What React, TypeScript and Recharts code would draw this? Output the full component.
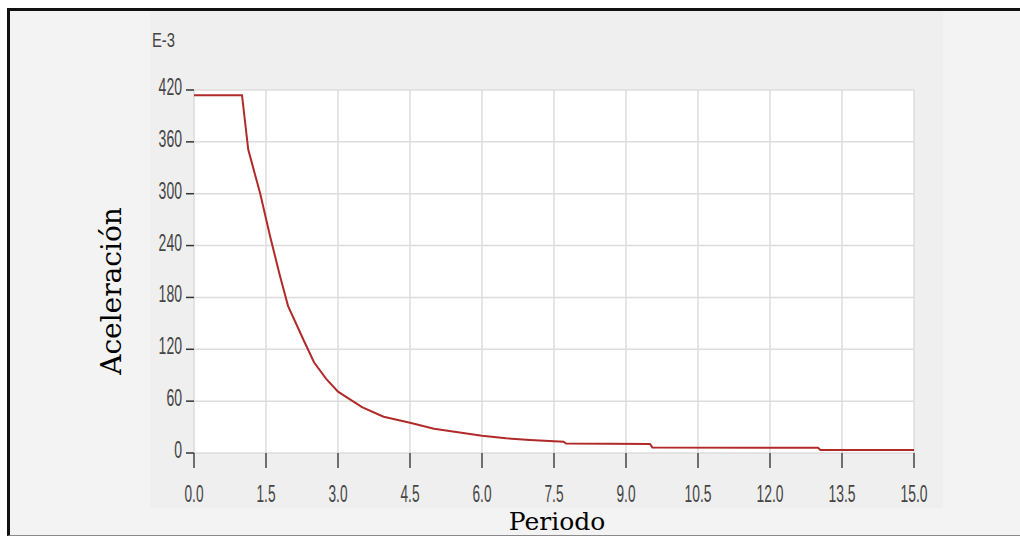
import { LineChart, Line, XAxis, YAxis, CartesianGrid } from 'recharts';

// (values in E-3 units)
const periodo = [0, 1.0, 1.13, 1.38, 1.58, 1.79, 1.96, 2.28, 2.5, 2.75, 3.0, 3.25, 3.5, 3.95, 4.5, 5.0, 5.5, 6.0, 6.5, 7.0, 7.7, 7.75, 9.5, 9.55, 13.0, 13.05, 15.0];
const aceleracion = [414, 414, 351, 300, 252, 205, 170, 131, 105, 86, 71, 62, 53, 42, 35, 28, 24, 20, 17, 15, 13, 11, 10.5, 6.5, 6, 3.5, 3.5];

const xTicks = [0, 1.5, 3, 4.5, 6, 7.5, 9, 10.5, 12, 13.5, 15];
const yTicks = [0, 60, 120, 180, 240, 300, 360, 420];

const data = periodo.map((t, i) => ({ t, a: aceleracion[i] }));

const tickColor = '#454545';
const tickFont = '"Liberation Sans Narrow", "Liberation Sans", Arial, sans-serif';
const titleFont = '"DejaVu Serif", serif';

function XTick({ x, y, payload }: any) {
  const s = Number(payload.value).toFixed(1);
  const w = s.replace('.', '').length * 8 + 3;
  return (
    <text x={x} y={y} dy={34} textAnchor="middle" fill={tickColor} fontSize={24}
      fontFamily={tickFont} textLength={w} lengthAdjust="spacingAndGlyphs">
      {s}
    </text>
  );
}

function YTick({ x, y, payload }: any) {
  const s = String(payload.value);
  return (
    <text x={x} y={y} dy={5} textAnchor="end" fill={tickColor} fontSize={24}
      fontFamily={tickFont} textLength={s.length * 7.8} lengthAdjust="spacingAndGlyphs">
      {s}
    </text>
  );
}

function YTitles() {
  return (
    <g>
      <text x={152} y={47} fill={tickColor} fontSize={21} fontFamily={tickFont}
        textLength={23} lengthAdjust="spacingAndGlyphs">E-3</text>
      <text x={121} y={291} transform="rotate(-90 121 291)" textAnchor="middle"
        fill="#000" fontSize={28} fontFamily={titleFont}>Aceleración</text>
    </g>
  );
}

function XTitle() {
  return (
    <text x={557} y={530} textAnchor="middle" fill="#000" fontSize={25} fontFamily={titleFont}>
      Periodo
    </text>
  );
}

export default function App() {
  return (
    <div>
      <style>{'body{margin:0;overflow:hidden}'}</style>
      <div style={{
        position: 'absolute', left: 7, top: 8, width: 1013, height: 528, boxSizing: 'border-box',
        borderTop: '3px solid #111', borderLeft: '3px solid #111', borderBottom: '1px solid #8a8a8a',
        background: '#f3f3f3',
      }} />
      <div style={{ position: 'absolute', left: 150, top: 11, width: 793, height: 497, background: '#efefef' }} />
      <div style={{ position: 'absolute', left: 0, top: 0 }}>
        <LineChart width={1020} height={537} data={data}
          margin={{ top: 90, right: 106, bottom: 34, left: 134 }}>
          <CartesianGrid stroke="#dcdcdc" strokeWidth={1.5} fill="#fff" />
          <XAxis dataKey="t" type="number" domain={[0, 15]} ticks={xTicks} height={50}
            axisLine={false} tickSize={15} tickMargin={0}
            tickLine={{ stroke: '#444', strokeWidth: 1.5 }} tick={<XTick />}
            label={{ content: () => <XTitle /> }} interval={0} />
          <YAxis type="number" domain={[0, 420]} ticks={yTicks} width={60}
            axisLine={false} tickSize={8} tickMargin={4}
            tickLine={{ stroke: '#333', strokeWidth: 1.5 }} tick={<YTick />}
            label={{ content: () => <YTitles /> }} interval={0} />
          <Line dataKey="a" type="linear" stroke="#b02a2a" strokeWidth={2}
            dot={false} isAnimationActive={false} />
        </LineChart>
      </div>
    </div>
  );
}
